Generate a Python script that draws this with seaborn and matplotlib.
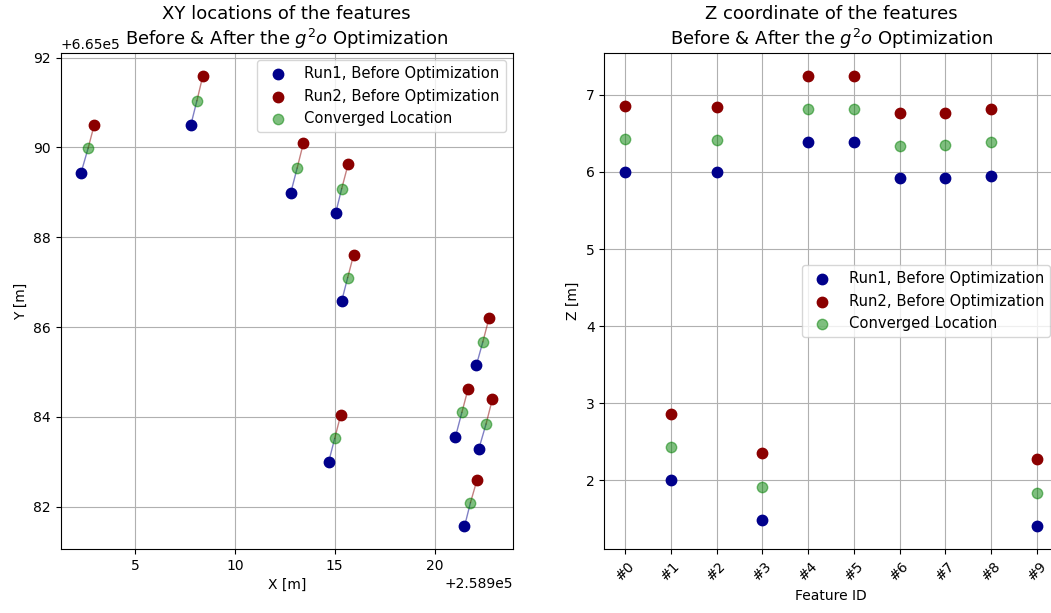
import matplotlib
matplotlib.use("Agg")
import matplotlib.pyplot as plt
import seaborn as sns
import pandas as pd

# ---- data ----
feature_ids = ['#0', '#1', '#2', '#3', '#4', '#5', '#6', '#7', '#8', '#9']

x_run1 = [258902.30, 258907.80, 258912.80, 258915.05, 258915.35, 258914.70, 258922.10, 258921.05, 258922.22, 258921.50]
y_run1 = [665089.44, 665090.51, 665088.99, 665088.54, 665086.58, 665083.00, 665085.16, 665083.56, 665083.29, 665081.56]
x_run2 = [258902.95, 258908.40, 258913.43, 258915.67, 258915.95, 258915.30, 258922.73, 258921.68, 258922.90, 258922.13]
y_run2 = [665090.49, 665091.60, 665090.09, 665089.62, 665087.61, 665084.04, 665086.20, 665084.62, 665084.40, 665082.60]
x_conv = [258902.65, 258908.10, 258913.12, 258915.35, 258915.65, 258915.00, 258922.42, 258921.37, 258922.58, 258921.80]
y_conv = [665089.98, 665091.04, 665089.54, 665089.08, 665087.10, 665083.52, 665085.67, 665084.10, 665083.84, 665082.09]

z_run1 = [5.995, 2.008, 5.995, 1.482, 6.388, 6.385, 5.917, 5.917, 5.948, 1.404]
z_run2 = [6.854, 2.863, 6.840, 2.354, 7.250, 7.250, 6.763, 6.771, 6.814, 2.276]
z_conv = [6.427, 2.435, 6.418, 1.913, 6.820, 6.820, 6.336, 6.344, 6.383, 1.840]

labels = ['Run1, Before Optimization', 'Run2, Before Optimization', 'Converged Location']

sns.set_style("ticks")
plt.rcParams['font.family'] = ['DejaVu Sans']
plt.rcParams.update({'text.color': 'black', 'axes.labelcolor': 'black',
                     'xtick.color': 'black', 'ytick.color': 'black'})

fig = plt.figure(figsize=(10.51, 6.13), dpi=100)
ax1 = fig.add_axes([0.0576, 0.1044, 0.4305, 0.8091])
ax2 = fig.add_axes([0.5751, 0.1044, 0.4312, 0.8091])

ms = 56
# ---- XY plot ----
for i in range(len(feature_ids)):
    ax1.plot([x_run1[i], x_conv[i]], [y_run1[i], y_conv[i]], color='darkblue', alpha=0.5, lw=1, zorder=2)
    ax1.plot([x_run2[i], x_conv[i]], [y_run2[i], y_conv[i]], color='darkred', alpha=0.5, lw=1, zorder=2)

sns.scatterplot(x=x_run1, y=y_run1, ax=ax1, color='darkblue', s=ms, edgecolor='darkblue', linewidth=1, label=labels[0], zorder=3)
sns.scatterplot(x=x_run2, y=y_run2, ax=ax1, color='darkred', s=ms, edgecolor='darkred', linewidth=1, label=labels[1], zorder=3)
sns.scatterplot(x=x_conv, y=y_conv, ax=ax1, color='green', alpha=0.5, s=ms, edgecolor='green', linewidth=1, label=labels[2], zorder=3)

ax1.ticklabel_format(axis='x', useOffset=258900)
ax1.ticklabel_format(axis='y', useOffset=665000)
ax1.grid(True, color='#b0b0b0', lw=0.8)
ax1.set_axisbelow(True)
ax1.set_xlabel('X [m]')
ax1.set_ylabel('Y [m]')
ax1.set_title('XY locations of the features\nBefore & After the $g^2o$ Optimization', fontsize=13)
ax1.legend(loc='upper right', fontsize=10.6)

# ---- Z plot ----
sns.scatterplot(x=feature_ids, y=z_run1, ax=ax2, color='darkblue', s=ms, edgecolor='darkblue', linewidth=1, label=labels[0], zorder=3)
sns.scatterplot(x=feature_ids, y=z_run2, ax=ax2, color='darkred', s=ms, edgecolor='darkred', linewidth=1, label=labels[1], zorder=3)
sns.scatterplot(x=feature_ids, y=z_conv, ax=ax2, color='green', alpha=0.5, s=ms, edgecolor='green', linewidth=1, label=labels[2], zorder=3)
ax2.grid(True, color='#b0b0b0', lw=0.8)
ax2.set_axisbelow(True)
ax2.set_xlabel('Feature ID')
ax2.set_ylabel('Z [m]')
ax2.set_title('Z coordinate of the features\nBefore & After the $g^2o$ Optimization', fontsize=13)
plt.setp(ax2.get_xticklabels(), rotation=45)
ax2.legend(loc='center right', fontsize=10.6)

for ax in (ax1, ax2):
    for s in ax.spines.values():
        s.set_visible(True)
        s.set_color('black')
        s.set_linewidth(0.8)
    ax.tick_params(labelsize=10, direction='out', length=3.5, width=0.8, color='black')

fig.savefig('out.png', dpi=100)
